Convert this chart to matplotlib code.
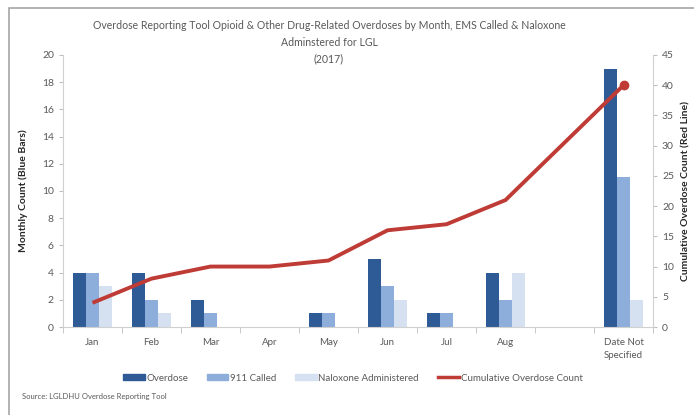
import matplotlib
matplotlib.use("Agg")
import matplotlib.pyplot as plt
import numpy as np
from matplotlib.patches import Rectangle
from matplotlib.lines import Line2D
from matplotlib.patches import Patch

categories = ["Jan", "Feb", "Mar", "Apr", "May", "Jun", "Jul", "Aug", "", "Date Not\nSpecified"]
overdose = [4, 4, 2, 0, 1, 5, 1, 4, 0, 19]
called_911 = [4, 2, 1, 0, 1, 3, 1, 2, 0, 11]
naloxone = [3, 1, 0, 0, 0, 2, 0, 4, 0, 2]
cumulative = [4, 8, 10, 10, 11, 16, 17, 21, None, 40]

c_od = "#2E5B96"
c_911 = "#8DAEDA"
c_nal = "#D5E1F1"
c_red = "#BF3B35"
grey_txt = "#595959"
font = "Lato"
plt.rcParams['font.family'] = [font, 'DejaVu Sans']

fig = plt.figure(figsize=(6.94, 4.15), dpi=100)
ax = fig.add_axes([63/694, 1-327/415, (653-63)/694, (327-55)/415])
ax2 = ax.twinx()

x = np.arange(len(categories))
w = 0.22
ax.bar(x - w, overdose, w, color=c_od, zorder=2)
ax.bar(x, called_911, w, color=c_911, zorder=2)
ax.bar(x + w, naloxone, w, color=c_nal, zorder=2)

xs = [xi for xi, v in zip(x, cumulative) if v is not None]
ys = [v for v in cumulative if v is not None]
ax2.plot(xs, ys, color=c_red, lw=2.8, zorder=3, solid_capstyle='butt')
ax2.plot([xs[-1]], [ys[-1]], 'o', color=c_red, ms=6, zorder=4)

ax.set_xlim(-0.5, len(categories) - 0.5)
ax.set_ylim(0, 20)
ax.set_yticks(np.arange(0, 21, 2))
ax2.set_ylim(0, 45)
ax2.set_yticks(np.arange(0, 46, 5))

ax.set_xticks(x)
ax.set_xticklabels(categories, fontsize=7, color=grey_txt, linespacing=1.5)
ax.set_xticks(np.arange(-0.5, len(categories) + 0.5, 1), minor=True)
ax.tick_params(axis='x', which='major', length=0, pad=8)
ax.tick_params(axis='x', which='minor', length=4, color="#BFBFBF", direction='out')
ax.tick_params(axis='y', length=3, color="#BFBFBF", labelsize=7.5, labelcolor=grey_txt)
ax2.tick_params(axis='y', length=3, color="#BFBFBF", labelsize=7.5, labelcolor=grey_txt)

for a in (ax, ax2):
    a.spines["top"].set_visible(False)
    for s in ("left", "right", "bottom"):
        a.spines[s].set_color("#D0D0D0")
ax.spines['right'].set_visible(False)
ax2.spines['left'].set_visible(False)
ax2.spines['bottom'].set_visible(False)

ax.set_ylabel("Monthly Count (Blue Bars)", fontsize=7.5, fontweight='bold', color="#262626", labelpad=10)
ax2.set_ylabel("Cumulative Overdose Count (Red Line)", fontsize=7.5, fontweight='bold', color="#262626", labelpad=5)

fig.text(329/694, 1-42/415, "Overdose Reporting Tool Opioid & Other Drug-Related Overdoses by Month, EMS Called & Naloxone\nAdminstered for LGL\n(2017)",
         ha='center', va='center', fontsize=7.6, color=grey_txt, linespacing=1.6)

handles = [Patch(color=c_od), Patch(color=c_911), Patch(color=c_nal), Line2D([0], [0], color=c_red, lw=2.5)]
labels = ["Overdose", "911 Called", "Naloxone Administered", "Cumulative Overdose Count"]
fig.legend(handles, labels, loc='center', bbox_to_anchor=(353/694, 1-378/415), ncol=4, frameon=False,
           fontsize=7, handlelength=2.2, handleheight=0.45, columnspacing=1.9, handletextpad=0.2,
           labelcolor=grey_txt)

fig.text(22/694, 1-396/415, "Source: LGLDHU Overdose Reporting Tool", fontsize=5.5, color=grey_txt, va='center')

fig.patches.append(Rectangle((9/694, -0.05), 1.0, 1 - 8/415 + 0.05, transform=fig.transFigure,
                             fill=False, edgecolor="#A6A6A6", lw=1.2))

fig.savefig("out.png", dpi=100)
